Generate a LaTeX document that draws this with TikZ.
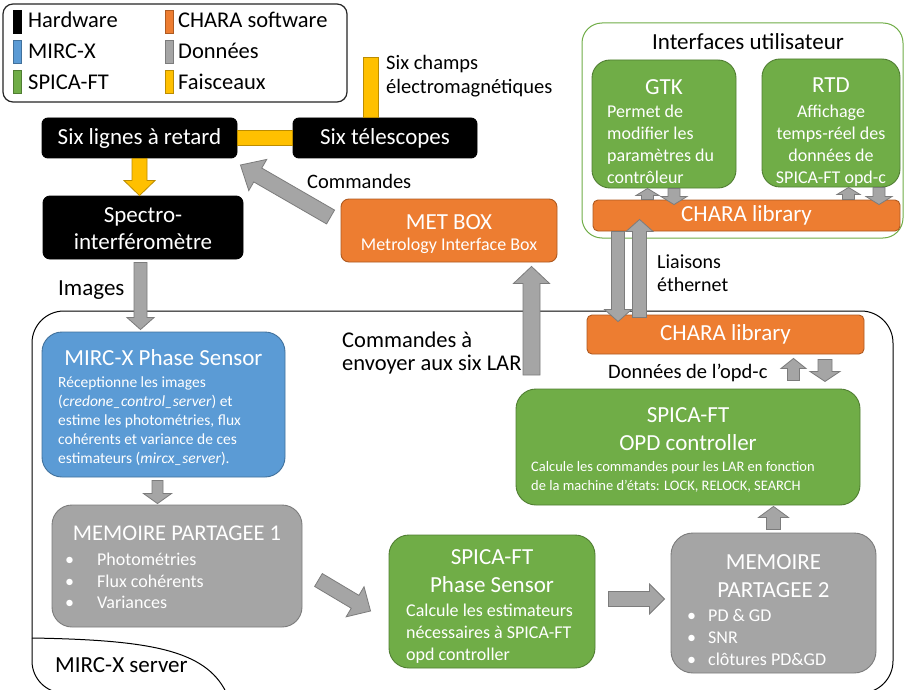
\documentclass[tikz,border=0pt]{standalone}
\usepackage{fontspec}
\setmainfont{Carlito}
\usetikzlibrary{calc}
\definecolor{cblue}{HTML}{5B9BD5}
\definecolor{cblueD}{HTML}{41719C}
\definecolor{cgreen}{HTML}{70AD47}
\definecolor{cgreenD}{HTML}{507E32}
\definecolor{corange}{HTML}{ED7D31}
\definecolor{corangeD}{HTML}{AE5A21}
\definecolor{cgray}{HTML}{A5A5A5}
\definecolor{cgrayD}{HTML}{7C7C7C}
\definecolor{cyellow}{HTML}{FFC000}
\definecolor{cyellowD}{HTML}{BC8C00}
\newcommand\fsz[2]{\fontsize{#1}{#2}\selectfont}
% block arrow: [style]{from}{to}{half shaft}{half head}{head length}
\newcommand\blockarr[6][]{%
  \coordinate (bkC) at ($(#3)!#6!(#2)$);
  \filldraw[#1] ($(#2)!#4!90:(#3)$) -- ($(bkC)!#4!90:(#3)$) -- ($(bkC)!#5!90:(#3)$) -- (#3)
    -- ($(bkC)!#5!-90:(#3)$) -- ($(bkC)!#4!-90:(#3)$) -- ($(#2)!#4!-90:(#3)$) -- cycle;}
% straight band: [style]{from}{to}{half width}
\newcommand\ybeam[4][]{%
  \filldraw[#1] ($(#2)!#4!90:(#3)$) -- ($(#3)!#4!-90:(#2)$) -- ($(#3)!#4!90:(#2)$) -- ($(#2)!#4!-90:(#3)$) -- cycle;}
\begin{document}
\begin{tikzpicture}[x=1pt,y=-1pt,
  every node/.style={inner sep=0pt},
  bx/.style={draw, line width=0.9pt, rounded corners=#1},
  sw/.style={draw, line width=0.8pt, minimum width=8pt, minimum height=23pt},
  arr/.style={fill=cgray, draw=cgrayD, line width=0.8pt},
  yarr/.style={fill=cyellow, draw=cyellowD, line width=0.8pt},
  wt/.style={text=white},
  lgd/.style={anchor=base west, font=\fsz{22.5}{27}},
]
\fill[white] (0,0) rectangle (905,690);
\path[use as bounding box] (0,0) rectangle (905,690);

% big frame and MIRC-X server region
\begin{scope}
  \clip (0,0) rectangle (905,690);
  \draw[line width=1pt, rounded corners=32pt] (32,311) rectangle (893,693);
  \draw[line width=1pt] (32,638) .. controls (150,640) and (205,650) .. (226,692);
\end{scope}

% legend
\node[bx=10pt, draw=black!85, line width=1.2pt, minimum width=344pt, minimum height=98pt] (legend) at (175,53) {};
\node[sw, fill=black, draw=black] (sw1) at (17,21.5) {};
\node[sw, fill=cblue, draw=cblueD] (sw2) at (17,51.5) {};
\node[sw, fill=cgreen, draw=cgreenD] (sw3) at (17,81.5) {};
\node[sw, fill=corange, draw=corangeD] (sw4) at (169,21.5) {};
\node[sw, fill=cgray, draw=cgrayD] (sw5) at (169,51.5) {};
\node[sw, fill=cyellow, draw=cyellowD] (sw6) at (169,81.5) {};
\node[lgd] (lg1) at (28,28) {Hardware};
\node[lgd] (lg2) at (28,59) {MIRC-X};
\node[lgd] (lg3) at (28,89.5) {SPICA-FT};
\node[lgd] (lg4) at (178,28) {CHARA software};
\node[lgd] (lg5) at (178,59) {Données};
\node[lgd] (lg6) at (178,89.5) {Faisceaux};

% boxes
\node[bx=6pt, fill=black, draw=black, minimum width=195pt, minimum height=40pt, wt, font=\fsz{23}{28}] (lignes) at (139.5,138) {Six lignes à retard};
\node[bx=6pt, fill=black, draw=black, minimum width=184pt, minimum height=40pt, wt, font=\fsz{23}{28}] (telesc) at (385,138) {Six télescopes};

% yellow beams (behind boxes visually joined)
\coordinate (bt) at (370.5,57);
\coordinate (bb) at (bt |- telesc.north);
\ybeam[yarr]{bt}{bb}{7.5pt}
\ybeam[yarr]{lignes.east}{telesc.west}{7.5pt}

\node[bx=7pt, fill=black, draw=black, minimum width=200pt, minimum height=63pt] (spectro) at (143,227.5) {};
\node[bx=8pt, fill=corange, draw=corangeD, minimum width=216pt, minimum height=63pt] (metbox) at (449,230.5) {};
\node[bx=20pt, draw=cgreen, line width=1pt, minimum width=321pt, minimum height=215pt] (ui) at (742.5,130.5) {};
\node[bx=18pt, fill=cgreen, draw=cgreenD, minimum width=144pt, minimum height=128pt] (gtk) at (664,124) {};
\node[bx=18pt, fill=cgreen, draw=cgreenD, minimum width=138pt, minimum height=128pt] (rtd) at (831,123) {};
\node[bx=5pt, fill=corange, draw=corangeD, minimum width=307pt, minimum height=31pt, wt, font=\fsz{23}{28}] (charaT) at (746.5,215.5) {CHARA library};
\node[bx=5pt, fill=corange, draw=corangeD, minimum width=277pt, minimum height=39pt, wt, font=\fsz{23}{28}] (charaB) at (725.5,334.5) {CHARA library};
\node[bx=20pt, fill=cgreen, draw=cgreenD, minimum width=344pt, minimum height=116pt] (opd) at (688,447) {};
\node[bx=20pt, fill=cblue, draw=cblueD, minimum width=243pt, minimum height=145pt] (mirc) at (163.5,404.5) {};
\node[bx=20pt, fill=cgray, draw=cgrayD, minimum width=250pt, minimum height=122pt] (mem1) at (177,566) {};
\node[bx=20pt, fill=cgreen, draw=cgreenD, minimum width=206pt, minimum height=133pt] (spsens) at (492,601.5) {};
\node[bx=22pt, fill=cgray, draw=cgrayD, minimum width=205pt, minimum height=140pt] (mem2) at (773.5,603) {};

% texts inside boxes
\node[anchor=north, align=center, wt, font=\fsz{23}{27}] (spectroT) at (143,203.5) {\strut Spectro-\\interféromètre};
\node[anchor=base, wt, font=\fsz{23}{28}] (metT) at (449,229.4) {MET BOX};
\node[anchor=base, wt, font=\fsz{18}{22}] (metS) at (449,250.8) {Metrology Interface Box};
\node[anchor=base, font=\fsz{23}{28}] (uiT) at (748,49.4) {Interfaces utilisateur};
\node[anchor=base, wt, font=\fsz{23}{28}] (gtkT) at (664,94.4) {GTK};
\node[anchor=north west, align=left, wt, font=\fsz{18}{21.7}] (gtkB) at (607,102.6) {\strut Permet de\\modifier les\\paramètres du\\contrôleur};
\node[anchor=base, wt, font=\fsz{23}{28}] (rtdT) at (831,92.4) {RTD};
\node[anchor=north, align=center, wt, font=\fsz{18}{21.7}] (rtdB) at (831,102.6) {\strut Affichage\\temps-réel des\\données de\\SPICA-FT opd-c};
\node[anchor=base, wt, font=\fsz{23}{28}] (mircT) at (163.5,365.4) {MIRC-X Phase Sensor};
\node[anchor=north west, align=left, wt, font=\fsz{15.5}{19}] (mircB) at (58,373.7) {\strut Réceptionne les images\\(\textit{credone\_control\_server}) et\\estime les photométries, flux\\cohérents et variance de ces\\estimateurs (\textit{mircx\_server}).};
\node[anchor=base, wt, font=\fsz{22.5}{28}] (mem1T) at (177,540.2) {MEMOIRE PARTAGEE 1};
\node[anchor=north west, align=left, wt, font=\fsz{18}{21.5}] (mem1B) at (65,550.7) {\strut\makebox[32pt][l]{•}Photométries\\\makebox[32pt][l]{•}Flux cohérents\\\makebox[32pt][l]{•}Variances};
\node[anchor=north, align=center, wt, font=\fsz{23}{28}] (spsT) at (492,544.8) {\strut SPICA-FT\\Phase Sensor};
\node[anchor=north west, align=left, wt, font=\fsz{18}{22}] (spsB) at (406,600.4) {\strut Calcule les estimateurs\\nécessaires à SPICA-FT\\opd controller};
\node[anchor=north, align=center, wt, font=\fsz{23}{28}] (mem2T) at (773.5,549.8) {\strut MEMOIRE\\PARTAGEE 2};
\node[anchor=north west, align=left, wt, font=\fsz{18}{22}] (mem2B) at (687,605.4) {\strut\makebox[21pt][l]{•}PD \& GD\\\makebox[21pt][l]{•}SNR\\\makebox[21pt][l]{•}clôtures PD\&GD};
\node[anchor=north, align=center, wt, font=\fsz{23}{28}] (opdT) at (688,402.8) {\strut SPICA-FT\\OPD controller};
\node[anchor=north west, align=left, wt, font=\fsz{14.5}{18.5}] (opdB) at (531,458.7) {\strut Calcule les commandes pour les LAR en fonction\\de la machine d’états: LOCK, RELOCK, SEARCH};

% free labels
\node[anchor=north west, align=left, font=\fsz{20.5}{24}] (champs) at (386,52.8) {\strut Six champs\\électromagnétiques};
\node[anchor=base west, font=\fsz{20.5}{24}] (cmd) at (307,188.6) {Commandes};
\node[anchor=base west, font=\fsz{23}{28}] (images) at (58,295.4) {Images};
\node[anchor=north west, align=left, font=\fsz{22.5}{23}] (cmdlar) at (342,331.1) {\strut Commandes à\\envoyer aux six LAR};
\node[anchor=north west, align=left, font=\fsz{20}{23}] (liais) at (657,252.3) {\strut Liaisons\\éthernet};
\node[anchor=base west, font=\fsz{20.5}{24}] (donnees) at (608,378.6) {Données de l’opd-c};
\node[anchor=base west, font=\fsz{23}{28}] (server) at (55,672.4) {MIRC-X server};

% arrows
\coordinate (ya1) at (lignes.south);
\coordinate (ya2) at (lignes.south |- spectro.north);
\blockarr[yarr]{ya1}{ya2}{7.5pt}{15.5pt}{15pt}

\coordinate (im1) at ($(spectro.south)+(-2.5,3)$);
\coordinate (im2) at ($(im1 |- mirc.north)+(0,-2)$);
\blockarr[arr]{im1}{im2}{6.5pt}{13.5pt}{12pt}

\coordinate (k1) at ($(mirc.south)+(-6,3)$);
\coordinate (k2) at ($(k1 |- mem1.north)+(0,-1)$);
\blockarr[arr]{k1}{k2}{5.5pt}{14pt}{10pt}

\coordinate (s1) at ($(mem1.east)+(16,14)$);
\coordinate (s2) at ($(spsens.west)+(-18,9.5)$);
\blockarr[arr]{s1}{s2}{7.5pt}{17.5pt}{18pt}

\coordinate (p1) at ($(spsens.east)+(13,-2.5)$);
\coordinate (p2) at ($(mem2.west)+(-6,-4)$);
\blockarr[arr]{p1}{p2}{7.5pt}{15pt}{15pt}

\coordinate (o1) at ($(mem2.north)+(0,-3)$);
\coordinate (o2) at ($(o1 |- opd.south)+(0,1)$);
\blockarr[arr]{o1}{o2}{7pt}{15pt}{11pt}

\coordinate (m1) at (531.5,375);
\coordinate (m2) at ($(m1 |- metbox.south)+(0,4)$);
\blockarr[arr]{m1}{m2}{8.5pt}{18pt}{17pt}

\coordinate (c1) at ($(metbox.west)+(-10,-13.5)$);
\coordinate (c2) at ($(lignes.east)+(3,27)$);
\blockarr[arr]{c1}{c2}{8pt}{18pt}{20pt}

\coordinate (l1) at ($(charaT.south west)+(25.5,0)$);
\coordinate (l2) at ($(l1 |- charaB.north)+(0,7)$);
\blockarr[arr]{l1}{l2}{6.5pt}{13.5pt}{12pt}
\coordinate (l3) at ($(charaB.north west)+(53,3)$);
\coordinate (l4) at ($(l3 |- charaT.south)+(0,-12)$);
\blockarr[arr]{l3}{l4}{7pt}{13.5pt}{12pt}

\coordinate (g1) at ($(charaT.north west)+(55,0)$);
\coordinate (g2) at (g1 |- gtk.south);
\blockarr[arr]{g1}{g2}{6pt}{11.5pt}{7pt}
\coordinate (g3) at ($(gtk.south)+(10,0)$);
\coordinate (g4) at ($(g3 |- charaT.north)+(0,5)$);
\blockarr[arr]{g3}{g4}{6pt}{13pt}{8pt}
\coordinate (r1) at ($(charaT.north west)+(256,0)$);
\coordinate (r2) at (r1 |- rtd.south);
\blockarr[arr]{r1}{r2}{6pt}{11.5pt}{7pt}
\coordinate (r3) at ($(rtd.south)+(48,0)$);
\coordinate (r4) at ($(r3 |- charaT.north)+(0,5)$);
\blockarr[arr]{r3}{r4}{6pt}{13pt}{8pt}

\coordinate (d1) at ($(charaB.south)+(68,26)$);
\coordinate (d2) at ($(charaB.south)+(68,4)$);
\blockarr[arr]{d1}{d2}{6pt}{12.5pt}{10pt}
\coordinate (d3) at ($(charaB.south)+(99.5,5)$);
\coordinate (d4) at ($(charaB.south)+(99.5,27)$);
\blockarr[arr]{d3}{d4}{7pt}{15pt}{10pt}
\end{tikzpicture}
\end{document}
